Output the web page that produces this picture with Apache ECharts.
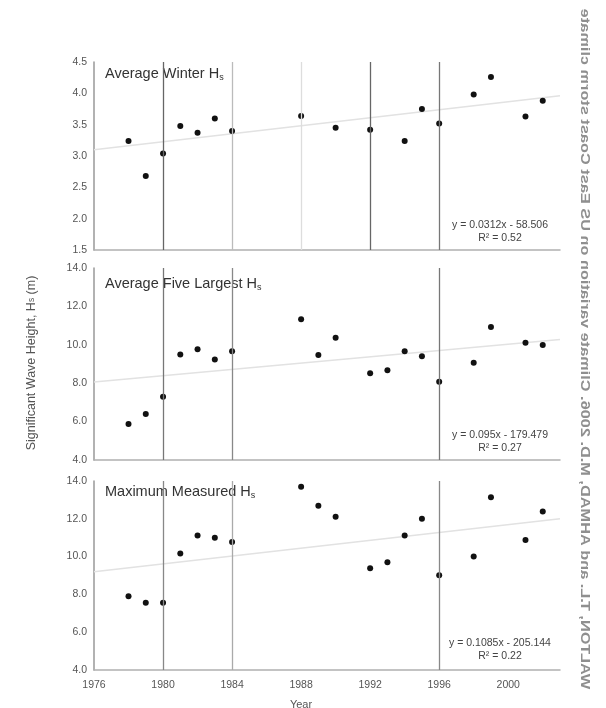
<!DOCTYPE html>
<html>
<head>
<meta charset="utf-8">
<script src="https://cdn.jsdelivr.net/npm/echarts@6/dist/echarts.min.js"></script>
<style>html,body{margin:0;padding:0;background:#fff}#c{width:606px;height:708px}</style>
</head>
<body>
<div id="c"></div>
<script>
// ---- data ----
var yearsWinter = [1978,1979,1980,1981,1982,1983,1984,1988,1990,1992,1994,1995,1996,1998,1999,2001,2002];
var avgWinter   = [3.24,2.68,3.04,3.48,3.37,3.60,3.40,3.64,3.45,3.42,3.24,3.75,3.52,3.98,4.26,3.63,3.88];
var yearsOther  = [1978,1979,1980,1981,1982,1983,1984,1988,1989,1990,1992,1993,1994,1995,1996,1998,1999,2001,2002];
var avgFive     = [5.87,6.40,7.30,9.50,9.77,9.23,9.66,11.33,9.47,10.37,8.52,8.67,9.66,9.40,8.08,9.07,10.93,10.11,9.99];
var maxMeasured = [7.90,7.56,7.56,10.17,11.11,11.00,10.77,13.70,12.69,12.11,9.38,9.70,11.11,12.00,9.01,10.00,13.14,10.88,12.38];
var trendWinter = [[1976,3.10],[2003,3.96]];
var trendFive   = [[1976,8.06],[2003,10.27]];
var trendMax    = [[1976,9.20],[2003,12.00]];
var vlinesTop   = [[1980,'#666'],[1984,'#bbb'],[1988,'#ddd'],[1992,'#666'],[1996,'#777']];
var vlinesMid   = [[1980,'#777'],[1984,'#888'],[1996,'#777']];
var vlinesBot   = [[1980,'#888'],[1984,'#aaa'],[1996,'#888']];
var xTicks = [1976,1980,1984,1988,1992,1996,2000];
var eqTexts = [['y = 0.0312x - 58.506','R² = 0.52'],['y = 0.095x - 179.479','R² = 0.27'],['y = 0.1085x - 205.144','R² = 0.22']];
var panelTitles = ['Average Winter H','Average Five Largest H','Maximum Measured H'];

var chart = echarts.init(document.getElementById('c'));
var font = 'Liberation Sans, Arial, sans-serif';
var grids = [
  {left:94, right:46, top:62, height:188},
  {left:94, right:46, top:268, height:192},
  {left:94, right:46, top:481, height:189}
];
var yRanges = [[1.5,4.5,0.5],[4,14,2],[4,14,2]];
function zip(xs, ys){ return xs.map(function(x,i){return [x, ys[i]];}); }
var xAxes = grids.map(function(g,i){
  return {gridIndex:i, type:'value', min:1976, max:2003, interval:4,
    axisLine:{show:true, onZero:false, lineStyle:{color:'#b0b0b0', width:1.5}},
    axisTick:{show:false}, splitLine:{show:false},
    axisLabel:{show:i===2, color:'#555', fontSize:10.5, fontFamily:font, margin:10,
      formatter:function(v){return xTicks.indexOf(v)>=0 ? String(v) : '';}}
  };
});
var yAxes = grids.map(function(g,i){
  return {gridIndex:i, type:'value', min:yRanges[i][0], max:yRanges[i][1], interval:yRanges[i][2],
    axisLine:{show:true, lineStyle:{color:'#999', width:1.5}},
    axisTick:{show:false}, splitLine:{show:false},
    axisLabel:{color:'#555', fontSize:10.5, fontFamily:font, margin:7,
      formatter:function(v){return v.toFixed(1);}}
  };
});
function vl(list){
  return {silent:true, symbol:'none', label:{show:false},
    data:list.map(function(d){return {xAxis:d[0], lineStyle:{color:d[1], width:1.3, type:'solid'}};})};
}
var dataSets = [zip(yearsWinter, avgWinter), zip(yearsOther, avgFive), zip(yearsOther, maxMeasured)];
var trends = [trendWinter, trendFive, trendMax];
var vls = [vlinesTop, vlinesMid, vlinesBot];
var series = [];
for (var i=0;i<3;i++){
  series.push({type:'line', xAxisIndex:i, yAxisIndex:i, data:trends[i], symbol:'none',
    lineStyle:{color:'#e2e2e2', width:1.5}, markLine:vl(vls[i]), z:1});
  series.push({type:'scatter', xAxisIndex:i, yAxisIndex:i, data:dataSets[i], symbolSize:6,
    itemStyle:{color:'#111', opacity:1}, z:3});
}
var graphics = [];
var titleTops = [66, 276, 484];
var eqTops = [219, 429, 637];
for (var j=0;j<3;j++){
  graphics.push({type:'text', left:105, top:titleTops[j], style:{
    text:'{a|'+panelTitles[j]+'}{s|s}', rich:{
      a:{fontSize:14.5, fontFamily:font, fill:'#333'},
      s:{fontSize:9, fontFamily:font, fill:'#333', verticalAlign:'bottom', padding:[8,0,0,0]}}}});
  graphics.push({type:'text', x:500, y:eqTops[j], style:{
    text:eqTexts[j][0]+'\n'+eqTexts[j][1], align:'center', fontSize:10.5, fontFamily:font, fill:'#444', lineHeight:13}});
}
graphics.push({type:'text', x:32, y:363, rotation:Math.PI/2, style:{
  text:'{a|Significant Wave Height, H}{s|s}{a| (m)}', align:'center', verticalAlign:'middle',
  rich:{a:{fontSize:12.5, fontFamily:font, fill:'#555'}, s:{fontSize:8.5, fontFamily:font, fill:'#555'}}}});
graphics.push({type:'text', x:301, y:705, style:{text:'Year', align:'center', verticalAlign:'middle',
  fontSize:11, fontFamily:font, fill:'#555'}});
graphics.push({type:'text', x:584, y:349, rotation:-Math.PI/2, scaleX:-1.36, style:{
  text:'WALTON, T.L. and AHMAD, M.D. 2006. Climate variation on US East Coast storm climate',
  align:'center', verticalAlign:'middle', fontSize:12, fontWeight:'bold', fontFamily:font, fill:'#8f8f8f'}});

chart.setOption({
  animation:false,
  backgroundColor:'#fff',
  grid:grids,
  xAxis:xAxes,
  yAxis:yAxes,
  series:series,
  graphic:graphics
});
</script>
</body>
</html>
